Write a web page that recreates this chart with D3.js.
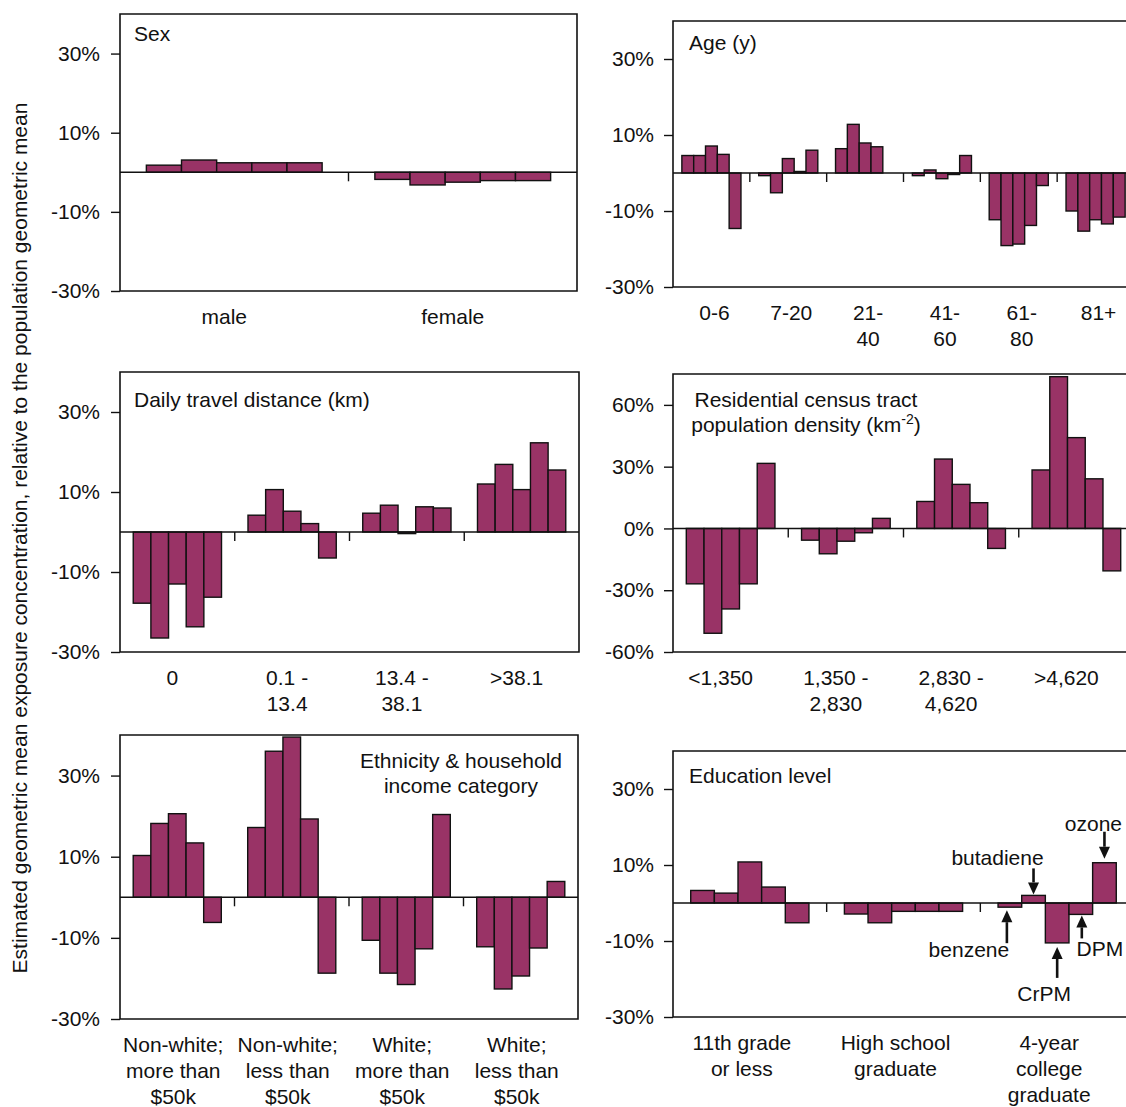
<!DOCTYPE html>
<html>
<head>
<meta charset="utf-8">
<script src="https://cdn.jsdelivr.net/npm/d3@7"></script>
<style>
  html, body { margin: 0; padding: 0; background: #fff; }
  svg text { font-family: "Liberation Sans", Arial, Helvetica, sans-serif; fill: #111; }
</style>
</head>
<body>
<svg id="chart" width="1126" height="1107"></svg>
<script>
// Pollutants shown as the five bars within every category
const series = ["benzene", "butadiene", "CrPM", "DPM", "ozone"];

// Sex
const sexCategories = [["male"], ["female"]];
const sexValues = [
  [1.8, 3.1, 2.4, 2.4, 2.4],
  [-1.8, -3.2, -2.5, -2.1, -2.1]
];

// Age (y)
const ageCategories = [["0-6"], ["7-20"], ["21-", "40"], ["41-", "60"], ["61-", "80"], ["81+"]];
const ageValues = [
  [4.6, 4.6, 7.1, 4.9, -14.6],
  [-0.7, -5.2, 3.8, 0.4, 6.0],
  [6.4, 12.8, 7.9, 6.9, 0],
  [-0.7, 0.8, -1.5, -0.4, 4.6],
  [-12.3, -19.1, -18.7, -13.8, -3.3],
  [-10.0, -15.3, -12.3, -13.4, -11.6]
];

// Daily travel distance (km)
const travelCategories = [["0"], ["0.1 -", "13.4"], ["13.4 -", "38.1"], [">38.1"]];
const travelValues = [
  [-17.8, -26.5, -13.0, -23.7, -16.3],
  [4.2, 10.6, 5.2, 2.1, -6.5],
  [4.7, 6.7, -0.4, 6.3, 6.0],
  [12.0, 16.9, 10.6, 22.3, 15.5]
];

// Residential census tract population density (km^-2)
const densityCategories = [["<1,350"], ["1,350 -", "2,830"], ["2,830 -", "4,620"], [">4,620"]];
const densityValues = [
  [-26.9, -50.9, -39.1, -26.9, 31.6],
  [-5.7, -12.3, -6.2, -2.1, 4.9],
  [13.1, 33.7, 21.4, 12.5, -9.7],
  [28.4, 73.7, 44.1, 24.1, -20.6]
];

// Ethnicity & household income category
const ethnicityCategories = [
  ["Non-white;", "more than", "$50k"],
  ["Non-white;", "less than", "$50k"],
  ["White;", "more than", "$50k"],
  ["White;", "less than", "$50k"]
];
const ethnicityValues = [
  [10.3, 18.2, 20.6, 13.4, -6.2],
  [17.2, 36.0, 39.5, 19.3, -18.7],
  [-10.6, -18.7, -21.5, -12.7, 20.4],
  [-12.2, -22.6, -19.4, -12.5, 3.9]
];

// Education level
const educationCategories = [["11th grade", "or less"], ["High school", "graduate"], ["4-year", "college", "graduate"]];
const educationValues = [
  [3.3, 2.6, 10.8, 4.2, -5.2],
  [-2.9, -5.2, -2.2, -2.2, -2.2],
  [-1.1, 2.0, -10.5, -3.0, 10.6]
];

// Y tick values
const pctTicks = [30, 10, -10, -30];
const densityTicks = [60, 30, 0, -30, -60];

const BAR_FILL = "#993366";
const INK = "#111";
const FONT = 21;

const svg = d3.select("#chart");
svg.append("rect").attr("width", 1126).attr("height", 1107).attr("fill", "#fff");

// Panel frames and text placement
const panels = [
  { cats: sexCategories, vals: sexValues, domain: [-30, 40], ticks: pctTicks,
    x0: 120, x1: 577, y0: 14, y1: 291, closed: true, labelDx: -10,
    title: { lines: ["Sex"], x: 134, y: 41, anchor: "start" } },
  { cats: ageCategories, vals: ageValues, domain: [-30, 40], ticks: pctTicks,
    x0: 673, x1: 1134, y0: 21, y1: 287, closed: false, labelDx: 3,
    title: { lines: ["Age (y)"], x: 689, y: 50, anchor: "start" } },
  { cats: travelCategories, vals: travelValues, domain: [-30, 40], ticks: pctTicks,
    x0: 120, x1: 579, y0: 372, y1: 652, closed: true, labelDx: -5,
    title: { lines: ["Daily travel distance (km)"], x: 134, y: 407, anchor: "start" } },
  { cats: densityCategories, vals: densityValues, domain: [-60, 75], ticks: densityTicks,
    x0: 673, x1: 1134, y0: 374, y1: 652, closed: false, labelDx: -10,
    title: { lines: ["Residential census tract", "population density (km"], sup: "-2", tail: ")",
             x: 806, y: 407, anchor: "middle" } },
  { cats: ethnicityCategories, vals: ethnicityValues, domain: [-30, 40], ticks: pctTicks,
    x0: 120, x1: 578, y0: 735, y1: 1019, closed: true, labelDx: -4,
    title: { lines: ["Ethnicity & household", "income category"], x: 461, y: 768, anchor: "middle" } },
  { cats: educationCategories, vals: educationValues, domain: [-30, 40], ticks: pctTicks,
    x0: 673, x1: 1134, y0: 751, y1: 1017, closed: false, labelDx: -8,
    title: { lines: ["Education level"], x: 689, y: 783, anchor: "start" } }
];

function drawPanel(p) {
  const g = svg.append("g");
  const groups = d3.range(p.cats.length);
  const x = d3.scaleBand().domain(groups).range([p.x0, p.x1]).paddingInner(0).paddingOuter(0);
  const xi = d3.scaleBand().domain(series).range([0, x.bandwidth()]).paddingInner(0).paddingOuter(0.75);
  const y = d3.scaleLinear().domain(p.domain).range([p.y1, p.y0]);

  // bars
  groups.forEach(gi => {
    g.append("g").selectAll("rect")
      .data(series.map((s, si) => ({ s, v: p.vals[gi][si] })))
      .join("rect")
      .attr("x", d => x(gi) + xi(d.s))
      .attr("width", xi.bandwidth())
      .attr("y", d => y(Math.max(0, d.v)))
      .attr("height", d => Math.abs(y(d.v) - y(0)))
      .attr("fill", BAR_FILL)
      .attr("stroke", INK)
      .attr("stroke-width", 1.4);
  });

  // zero line and category separators
  g.append("line")
    .attr("x1", p.x0).attr("x2", p.x1)
    .attr("y1", y(0)).attr("y2", y(0))
    .attr("stroke", INK).attr("stroke-width", 1.4);
  g.append("g").selectAll("line")
    .data(groups.slice(1))
    .join("line")
    .attr("x1", d => x(d)).attr("x2", d => x(d))
    .attr("y1", y(0)).attr("y2", y(0) + 9)
    .attr("stroke", INK).attr("stroke-width", 1.4);

  // frame
  const frame = p.closed
    ? `M${p.x0},${p.y0}H${p.x1}V${p.y1}H${p.x0}Z`
    : `M${p.x1},${p.y0}H${p.x0}V${p.y1}H${p.x1}`;
  g.append("path").attr("d", frame).attr("fill", "none")
    .attr("stroke", INK).attr("stroke-width", 1.6);

  // y axis
  const ax = g.append("g").attr("transform", `translate(${p.x0},0)`)
    .call(d3.axisLeft(y).tickValues(p.ticks).tickSize(9).tickPadding(p.closed ? 11 : 10)
      .tickFormat(d => d + "%"));
  ax.select(".domain").remove();
  ax.selectAll(".tick line").attr("stroke", INK).attr("stroke-width", 1.4);
  ax.selectAll(".tick text").attr("font-size", FONT).attr("font-family", null).attr("fill", INK);

  // category labels
  groups.forEach(gi => {
    const t = g.append("text")
      .attr("text-anchor", "middle")
      .attr("font-size", FONT)
      .attr("x", x(gi) + x.bandwidth() / 2 + p.labelDx)
      .attr("y", p.y1 + 33);
    p.cats[gi].forEach((line, li) => {
      t.append("tspan")
        .attr("x", x(gi) + x.bandwidth() / 2 + p.labelDx)
        .attr("dy", li === 0 ? 0 : 26)
        .text(line);
    });
  });

  // panel title
  const tt = p.title;
  tt.lines.forEach((line, li) => {
    const t = g.append("text")
      .attr("x", tt.x).attr("y", tt.y + li * 25)
      .attr("text-anchor", tt.anchor)
      .attr("font-size", FONT)
      .text(line);
    if (tt.sup && li === tt.lines.length - 1) {
      t.append("tspan").attr("font-size", 14).attr("dy", -8).text(tt.sup);
      t.append("tspan").attr("dy", 8).text(tt.tail);
    }
  });

  return { x, xi, y, g };
}

const scales = panels.map(drawPanel);

// Pollutant call-outs on the college-graduate group
const edu = scales[5];
const notes = [
  { s: "benzene",   gap: 3, len: 33, arrowDx: -3, textDx: -41, textDy: 14 },
  { s: "butadiene", gap: 1, len: 26, arrowDx: 0,  textDx: -36, textDy: -3 },
  { s: "CrPM",      gap: 4, len: 31, arrowDx: 0,  textDx: -13, textDy: 23 },
  { s: "DPM",       gap: 1, len: 23, arrowDx: 1,  textDx: 19,  textDy: 18 },
  { s: "ozone",     gap: 4, len: 27, arrowDx: 0,  textDx: -11, textDy: -1 }
];
const eduGroup = 2;
notes.forEach(n => {
  const v = educationValues[eduGroup][series.indexOf(n.s)];
  const cx = edu.x(eduGroup) + edu.xi(n.s) + edu.xi.bandwidth() / 2;
  const ax = cx + n.arrowDx;
  const up = v < 0;             // arrow points up to a bar hanging below zero
  const tip = up ? edu.y(v) + n.gap : edu.y(v) - n.gap;
  const tail = up ? tip + n.len : tip - n.len;
  const head = 12, hw = 5.5;
  const base = up ? tip + head : tip - head;
  edu.g.append("line")
    .attr("x1", ax).attr("x2", ax)
    .attr("y1", tail).attr("y2", base)
    .attr("stroke", INK).attr("stroke-width", 2.6);
  edu.g.append("path")
    .attr("d", `M${ax},${tip}L${ax - hw},${base}L${ax + hw},${base}Z`)
    .attr("fill", INK);
  edu.g.append("text")
    .attr("x", cx + n.textDx)
    .attr("y", tail + n.textDy)
    .attr("text-anchor", "middle")
    .attr("font-size", FONT)
    .text(n.s);
});

// shared y-axis title
svg.append("text")
  .attr("transform", "translate(27,538) rotate(-90)")
  .attr("text-anchor", "middle")
  .attr("font-size", FONT)
  .text("Estimated geometric mean exposure concentration, relative to the population geometric mean");
</script>
</body>
</html>
